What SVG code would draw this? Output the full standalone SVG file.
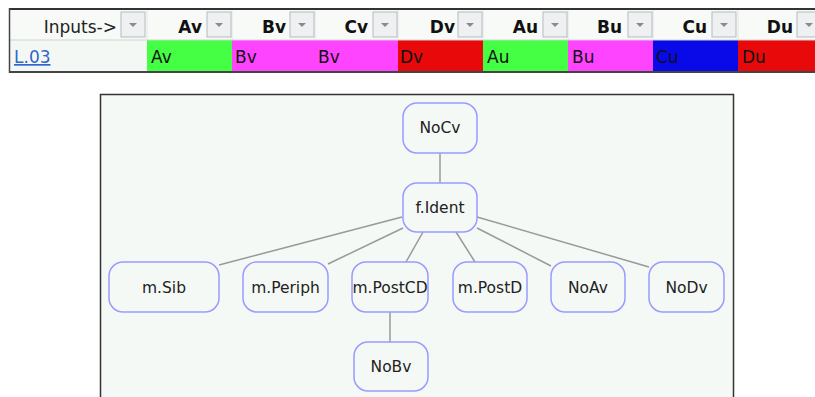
<svg xmlns="http://www.w3.org/2000/svg" width="815" height="397" viewBox="0 0 815 397">
<defs>
<style>
.hd{font-family:"DejaVu Sans",sans-serif;font-size:17px;font-weight:bold;fill:#111;text-anchor:end}
.hl{font-family:"DejaVu Sans",sans-serif;font-size:17px;fill:#222;text-anchor:end}
.dt{font-family:"DejaVu Sans",sans-serif;font-size:17px;fill:#111}
.btn{fill:#eef0f1;stroke:#b4bcc4;stroke-width:1}
.tri{fill:#8a8a8a}
.node rect{fill:#f5f9f6;stroke:#9a9aff;stroke-width:1.5}
.node text{font-family:"DejaVu Sans",sans-serif;font-size:15.5px;fill:#222;text-anchor:middle}
.edges line{stroke:#999;stroke-width:1.5}
</style>
<g id="dd"><rect class="btn" x="0" y="0" width="24" height="25"/><path class="tri" d="M8 11h8l-4 4z"/></g>
</defs>
<rect width="815" height="397" fill="#ffffff"/>
<g id="table">
<rect x="9" y="9" width="806" height="31" fill="#f7faf7"/>
<rect x="9" y="40" width="138" height="32" fill="#f4f8f4"/>
<rect x="147" y="40" width="85" height="32" fill="#44ff44"/>
<rect x="232" y="40" width="166" height="32" fill="#ff44ff"/>
<rect x="398" y="40" width="85" height="32" fill="#e80a0a"/>
<rect x="483" y="40" width="85" height="32" fill="#44ff44"/>
<rect x="568" y="40" width="85" height="32" fill="#ff44ff"/>
<rect x="653" y="40" width="85" height="32" fill="#0a0ae8"/>
<rect x="738" y="40" width="77" height="32" fill="#e80a0a"/>
<line x1="9" y1="40" x2="815" y2="40" stroke="#d0d4d0" stroke-width="1"/>
<g stroke="#e2e6e2" stroke-width="1">
<line x1="147" y1="10" x2="147" y2="40"/><line x1="232" y1="10" x2="232" y2="40"/><line x1="315" y1="10" x2="315" y2="40"/><line x1="398" y1="10" x2="398" y2="40"/><line x1="483" y1="10" x2="483" y2="40"/><line x1="568" y1="10" x2="568" y2="40"/><line x1="653" y1="10" x2="653" y2="40"/><line x1="738" y1="10" x2="738" y2="40"/>
</g>
<line x1="9" y1="9" x2="815" y2="9" stroke="#333" stroke-width="2"/>
<line x1="9" y1="72" x2="815" y2="72" stroke="#444" stroke-width="2"/>
<line x1="9.5" y1="8" x2="9.5" y2="73" stroke="#444" stroke-width="1.5"/>
<text class="hl" x="117" y="33">Inputs-&gt;</text>
<use href="#dd" x="121" y="12"/>
<text class="hd" x="202" y="33">Av</text><use href="#dd" x="207" y="12"/>
<text class="hd" x="286" y="33">Bv</text><use href="#dd" x="290" y="12"/>
<text class="hd" x="368" y="33">Cv</text><use href="#dd" x="373" y="12"/>
<text class="hd" x="455" y="33">Dv</text><use href="#dd" x="458" y="12"/>
<text class="hd" x="538" y="33">Au</text><use href="#dd" x="543" y="12"/>
<text class="hd" x="622" y="33">Bu</text><use href="#dd" x="628" y="12"/>
<text class="hd" x="707" y="33">Cu</text><use href="#dd" x="712" y="12"/>
<text class="hd" x="793" y="33">Du</text><use href="#dd" x="797" y="12"/>
<text x="14" y="63" font-family="DejaVu Sans, sans-serif" font-size="17" fill="#3366cc" text-decoration="underline">L.03</text>
<text class="dt" x="151" y="63">Av</text>
<text class="dt" x="235" y="63">Bv</text>
<text class="dt" x="318" y="63">Bv</text>
<text class="dt" x="400" y="63">Dv</text>
<text class="dt" x="487" y="63">Au</text>
<text class="dt" x="572" y="63">Bu</text>
<text class="dt" x="656" y="63">Cu</text>
<text class="dt" x="742" y="63">Du</text>
</g>
<rect x="100.5" y="94.5" width="633" height="310" fill="#f5f9f6" stroke="#333" stroke-width="1.5"/>
<g class="edges">
<line x1="440" y1="153" x2="440" y2="183"/>
<line x1="402" y1="217" x2="219" y2="265"/>
<line x1="403" y1="228" x2="328" y2="264"/>
<line x1="423" y1="232" x2="406" y2="262"/>
<line x1="456" y1="232" x2="475" y2="262"/>
<line x1="477" y1="228" x2="551" y2="266"/>
<line x1="477" y1="217" x2="649" y2="267"/>
<line x1="390" y1="312" x2="390" y2="342"/>
</g>
<g id="NoCv" class="node"><rect x="403" y="103" width="74" height="50" rx="14"/><text x="440" y="133">NoCv</text></g>
<g id="fIdent" class="node"><rect x="403" y="183" width="74" height="49" rx="14"/><text x="440" y="213">f.Ident</text></g>
<g id="mSib" class="node"><rect x="109" y="262" width="110" height="50" rx="14"/><text x="164" y="293">m.Sib</text></g>
<g id="mPeriph" class="node"><rect x="243" y="262" width="85" height="50" rx="14"/><text x="285.5" y="293">m.Periph</text></g>
<g id="mPostCD" class="node"><rect x="352" y="262" width="76" height="50" rx="14"/><text x="390" y="293">m.PostCD</text></g>
<g id="mPostD" class="node"><rect x="453" y="262" width="74" height="50" rx="14"/><text x="490" y="293">m.PostD</text></g>
<g id="NoAv" class="node"><rect x="551" y="262" width="74" height="50" rx="14"/><text x="588" y="293">NoAv</text></g>
<g id="NoDv" class="node"><rect x="649" y="262" width="75" height="50" rx="14"/><text x="686.5" y="293">NoDv</text></g>
<g id="NoBv" class="node"><rect x="354" y="342" width="74" height="49" rx="14"/><text x="391" y="372">NoBv</text></g>
</svg>
